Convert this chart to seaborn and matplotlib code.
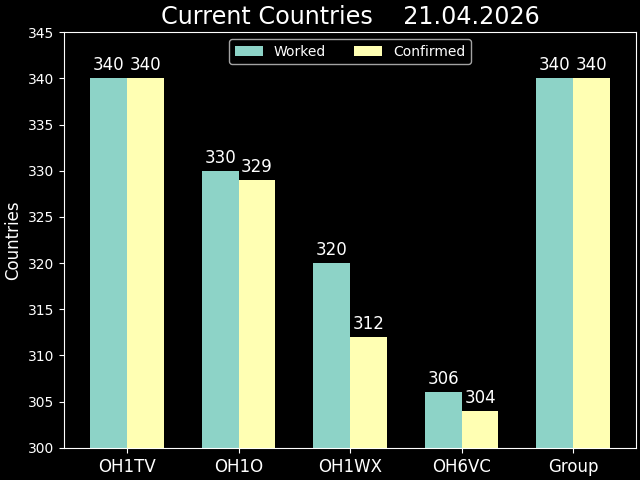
import pandas as pd
import matplotlib
matplotlib.use("Agg")
import matplotlib.pyplot as plt
import seaborn as sns

# Data
callsigns = ["OH1TV", "OH1O", "OH1WX", "OH6VC", "Group"]
worked = [340, 330, 320, 306, 340]
confirmed = [340, 329, 312, 304, 340]

df = pd.DataFrame({
    "Callsign": callsigns * 2,
    "Count": worked + confirmed,
    "Type": ["Worked"] * len(callsigns) + ["Confirmed"] * len(callsigns),
})

plt.style.use("dark_background")

fig, ax = plt.subplots(figsize=(6.4, 4.8), dpi=100)
sns.barplot(
    data=df,
    x="Callsign",
    y="Count",
    hue="Type",
    palette=["#8dd3c7", "#ffffb3"],
    width=0.66,
    saturation=1,
    ax=ax,
)

for container in ax.containers:
    ax.bar_label(container, fontsize=12, padding=3)

ax.set_ylim(300, 345)
ax.set_xlim(-0.565, 4.565)
ax.set_title("Current Countries    21.04.2026", fontsize=17.2)
ax.set_ylabel("Countries", fontsize=12)
ax.set_xlabel("")
ax.tick_params(axis="x", labelsize=12)
ax.legend(loc="upper center", ncol=2)

fig.subplots_adjust(left=0.1, right=0.994, top=0.933, bottom=0.067)
plt.savefig("out.png")
plt.close()
